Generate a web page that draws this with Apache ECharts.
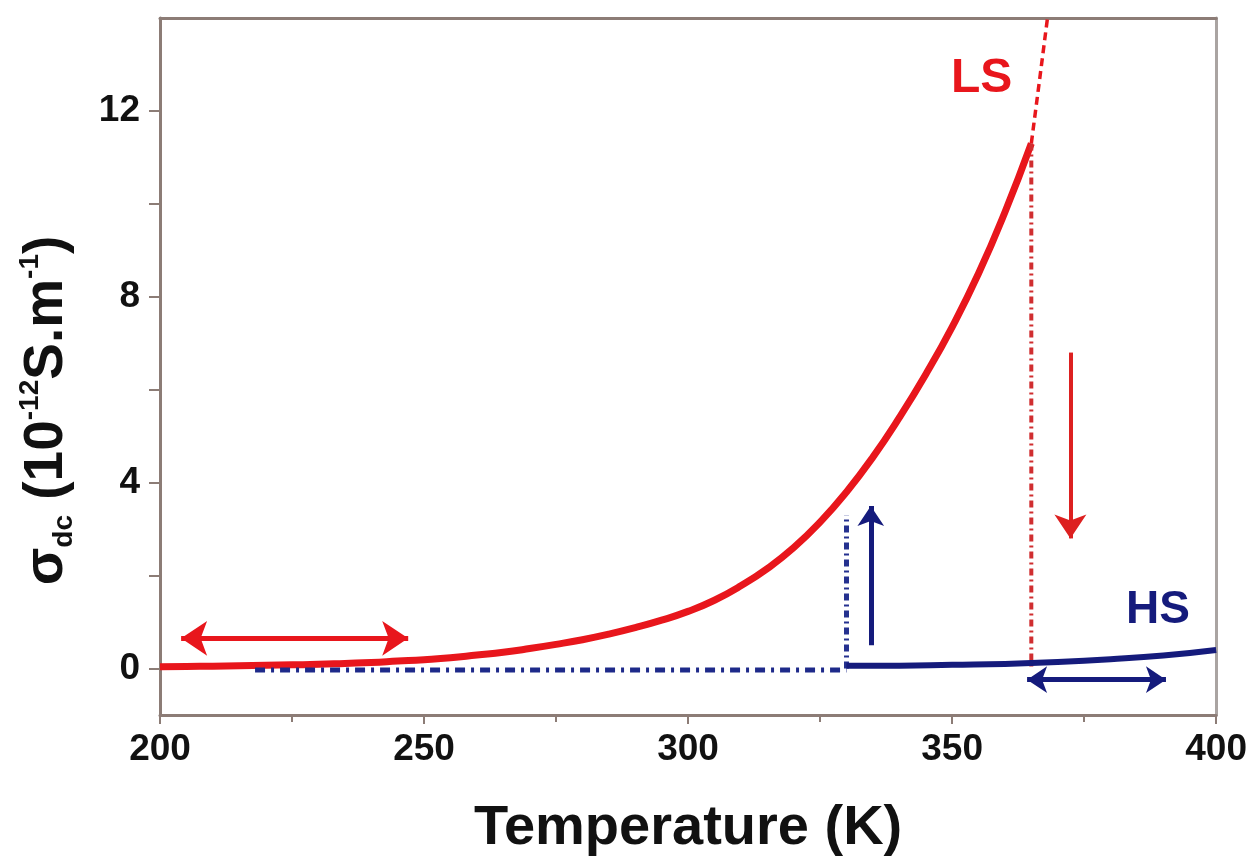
<!DOCTYPE html>
<html>
<head>
<meta charset="utf-8">
<script src="https://cdn.jsdelivr.net/npm/echarts@6/dist/echarts.min.js"></script>
<style>html,body{margin:0;padding:0;background:#fff;}#c{width:1250px;height:865px;}</style>
</head>
<body>
<div id="c"></div>
<script>
// ---- data ----
const tempLS   = [200,205,210,215,220,225,230,235,240,245,250,255,260,265,270,275,280,285,290,295,300,305,310,315,320,325,330,335,340,345,350,355,360,365];
const sigmaLS  = [0.04,0.045,0.05,0.06,0.07,0.08,0.09,0.11,0.13,0.16,0.19,0.23,0.29,0.35,0.43,0.52,0.62,0.74,0.88,1.04,1.23,1.47,1.78,2.15,2.6,3.15,3.8,4.55,5.4,6.33,7.35,8.5,9.82,11.3];
const tempLSext  = [365,366.6,368.4];
const sigmaLSext = [11.3,12.7,14.3];
const tempHS   = [330,340,350,360,370,380,390,400];
const sigmaHS  = [0.06,0.06,0.08,0.1,0.14,0.2,0.28,0.4];
const tempHSdash  = [218,330];
const sigmaHSdash = [-0.03,-0.03];
const jumpUp   = {t:330, from:0, to:3.3};      // blue vertical dash-dot
const jumpDown = {t:365, from:11.3, to:0};     // red vertical dash-dot
const arrowRedH  = [[204,0.65],[247,0.65]];
const arrowRedV  = [[372.4,6.8],[372.4,2.8]];
const arrowBlueV = [[334.6,0.5],[334.6,3.5]];
const arrowBlueH = [[364.2,-0.24],[390.5,-0.24]];
const labelLS = [355.6,12.7];
const labelHS = [389,1.25];
const yTickLabels = [0,4,8,12];
const yTicks = [0,2,4,6,8,10,12];

const RED = '#e8161c', NAVY = '#151b7c', AXIS = '#8c7c76';
const FONT = 'Liberation Sans, Arial, sans-serif';
const zip = (a,b) => a.map((v,i)=>[v,b[i]]);

const chart = echarts.init(document.getElementById('c'));
const arrowLine = (pts, color, width, sym, size) => ({
  type:'line', data:[], silent:true,
  markLine:{silent:true, animation:false, symbol:sym, symbolSize:size,
    label:{show:false}, emphasis:{disabled:true},
    lineStyle:{color:color, width:width, type:'solid'},
    data:[[{coord:pts[0]},{coord:pts[1]}]]}
});

chart.setOption({
  animation:false,
  grid:{left:160, right:32, top:18, bottom:150},
  xAxis:[{
    type:'value', min:200, max:400, interval:50,
    axisLine:{show:true, onZero:false, lineStyle:{color:AXIS, width:3}},
    axisTick:{show:true, length:9, lineStyle:{color:AXIS, width:2}},
    minorTick:{show:true, splitNumber:2, length:7, lineStyle:{color:AXIS, width:2}},
    splitLine:{show:false},
    axisLabel:{margin:16, color:'#111', fontSize:37, fontWeight:'bold', fontFamily:FONT},
    name:'Temperature (K)', nameLocation:'middle', nameGap:86,
    nameTextStyle:{color:'#111', fontSize:56, fontWeight:'bold', fontFamily:FONT}
  },{
    type:'value', position:'top', min:200, max:400,
    axisLine:{show:true, onZero:false, lineStyle:{color:AXIS, width:3}},
    axisTick:{show:false}, axisLabel:{show:false}, splitLine:{show:false}
  }],
  yAxis:[{
    type:'value', min:-1, max:14,
    axisLine:{show:true, onZero:false, lineStyle:{color:AXIS, width:3}},
    axisTick:{show:true, length:11, customValues:yTicks, lineStyle:{color:AXIS, width:2}},
    splitLine:{show:false},
    axisLabel:{margin:20, customValues:yTickLabels, color:'#111', fontSize:37, fontWeight:'bold', fontFamily:FONT},
    name:'{a|σ}{s|dc}{a| (10}{p|-12}{a|S.m}{p|-1}{a|)}',
    nameLocation:'middle', nameRotate:90, nameGap:82,
    nameTextStyle:{
      color:'#111', fontFamily:FONT, fontWeight:'bold', padding:[0,88,0,0],
      rich:{
        a:{fontSize:55, fontWeight:'bold', color:'#111', lineHeight:62, fontFamily:FONT},
        s:{fontSize:28, fontWeight:'bold', color:'#111', lineHeight:30, verticalAlign:'bottom', fontFamily:FONT},
        p:{fontSize:28, fontWeight:'bold', color:'#111', lineHeight:30, verticalAlign:'top', fontFamily:FONT}
      }
    }
  },{
    type:'value', position:'right', min:-1, max:14,
    axisLine:{show:true, onZero:false, lineStyle:{color:'#aaa4a2', width:3}},
    axisTick:{show:false}, axisLabel:{show:false}, splitLine:{show:false}
  }],
  series:[
    {type:'line', data:zip(tempLS,sigmaLS), smooth:true, showSymbol:false, silent:true,
     lineStyle:{color:RED, width:7}, z:3},
    {type:'line', data:zip(tempLSext,sigmaLSext), showSymbol:false, silent:true,
     lineStyle:{color:RED, width:3.5, type:[8,5]}, z:3},
    {type:'line', data:[[jumpDown.t,jumpDown.from],[jumpDown.t,jumpDown.to]], showSymbol:false, silent:true,
     lineStyle:{color:'#d02e30', width:4, type:[7,4,2,4]}, z:3},
    {type:'line', data:zip(tempHSdash,sigmaHSdash), showSymbol:false, silent:true,
     lineStyle:{color:'#1e2a8a', width:5, type:[10,6,3,6]}, z:4},
    {type:'line', data:[[jumpUp.t,jumpUp.from],[jumpUp.t,jumpUp.to]], showSymbol:false, silent:true,
     lineStyle:{color:'#25318f', width:5, type:[7,4,2,4]}, z:4},
    {type:'line', data:zip(tempHS,sigmaHS), smooth:true, showSymbol:false, silent:true,
     lineStyle:{color:NAVY, width:6}, z:5},
    arrowLine(arrowRedH, RED, 5, ['arrow','arrow'], 26),
    arrowLine(arrowRedV, '#dd2020', 4, ['none','arrow'], 24),
    arrowLine(arrowBlueV, NAVY, 5, ['none','arrow'], 20),
    arrowLine(arrowBlueH, NAVY, 5, ['arrow','arrow'], 20),
    {type:'scatter', symbolSize:0, silent:true, data:[labelLS], itemStyle:{opacity:1},
     label:{show:true, position:'inside', formatter:'LS', color:RED, opacity:1, fontSize:48, fontWeight:'bold', fontFamily:FONT}},
    {type:'scatter', symbolSize:0, silent:true, data:[labelHS], itemStyle:{opacity:1},
     label:{show:true, position:'inside', formatter:'HS', color:NAVY, opacity:1, fontSize:46, fontWeight:'bold', fontFamily:FONT}}
  ]
});
</script>
</body>
</html>
